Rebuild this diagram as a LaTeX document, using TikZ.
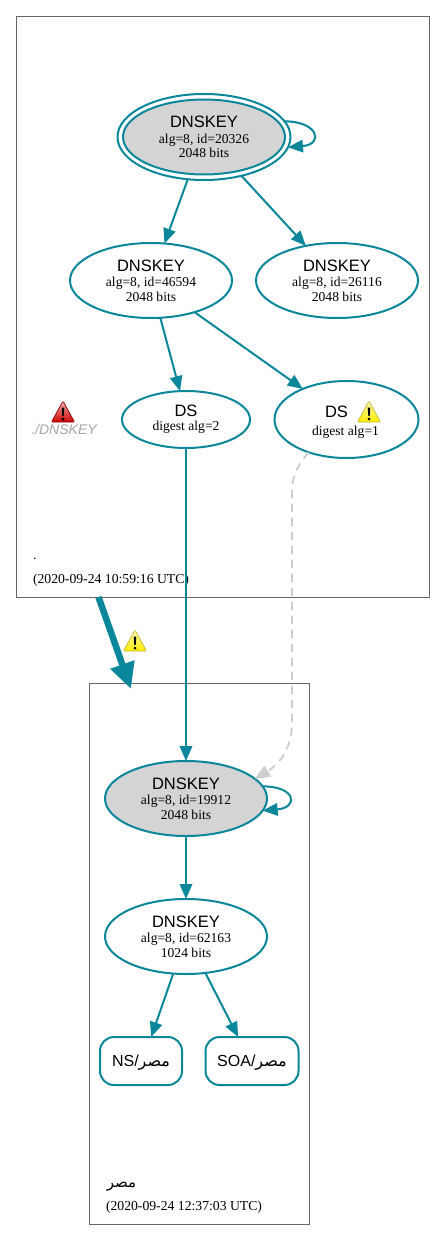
\documentclass[tikz,border=0pt]{standalone}
\usepackage{fontspec}
\usetikzlibrary{shapes.geometric,arrows.meta,calc}
\setmainfont{Liberation Serif}
\setsansfont{Liberation Sans}
\newfontfamily\arabicfont[Script=Arabic]{DejaVu Sans}
\TeXXeTstate=1
\definecolor{teal0}{HTML}{0A879A}
\definecolor{frame0}{HTML}{666666}
\newcommand{\headf}{\sffamily\fontsize{16.5}{17}\selectfont}
\newcommand{\subf}{\rmfamily\fontsize{13.6}{14.5}\selectfont}
\newcommand{\keytext}[2]{{\headf DNSKEY}\\[3.5pt]{\subf alg=8, id=#1}\\[1.5pt]{\subf #2 bits}}
\newcommand{\misr}{{\arabicfont\beginR مصر\endR}}
\tikzset{
  x=1pt,y=-1pt,
  every node/.style={inner sep=0pt,outer sep=0pt},
  zonebox/.style={draw=frame0,line width=0.8pt},
  keynode/.style={ellipse,draw=teal0,line width=2pt,align=center,minimum width=162pt,minimum height=75pt},
  dsnode/.style={ellipse,draw=teal0,line width=2pt,align=center},
  rrnode/.style={rectangle,rounded corners=14pt,draw=teal0,line width=2pt,minimum height=48pt,font=\sffamily\fontsize{16}{17}\selectfont},
  edge0/.style={draw=teal0,line width=2pt,-{Triangle[length=15pt,width=12.5pt]}},
  ghost0/.style={draw=black!20,line width=1.8pt,dash pattern=on 8pt off 6pt,-{Triangle[length=15pt,width=12.5pt]}},
  bigedge/.style={draw=teal0,line width=6.5pt,-{Triangle[length=26pt,width=24pt]}},
  labeltext/.style={anchor=west,font=\rmfamily\fontsize{13.7}{14}\selectfont},
  pics/warn/.style={code={
    \shade[top color=#1!30!white,bottom color=#1,draw=#1!75!black,line width=0.7pt,rounded corners=1pt]
      (0,-11) -- (11.5,10) -- (-11.5,10) -- cycle;
    \fill[black] (-1.3,-4.5) -- (1.3,-4.5) -- (0.7,4) -- (-0.7,4) -- cycle;
    \fill[black] (0,7) circle (1.5);
  }}
}
\begin{document}
\begin{tikzpicture}
\useasboundingbox (0,0) rectangle (445,1241);
\fill[white] (0,0) rectangle (445,1241);
% zones
\node[zonebox,anchor=north west,minimum width=413pt,minimum height=581pt] (rootzone) at (16,16) {};
\node[zonebox,anchor=north west,minimum width=220pt,minimum height=541pt] (egzone) at (89,683) {};
% nodes
\node[ellipse,draw=teal0,line width=2pt,minimum width=173pt,minimum height=86pt] (kskouter) at (204,137) {};
\node[keynode,fill=black!17] (ksk) at (204,137) {\keytext{20326}{2048}};
\node[keynode] (zsk1) at (151,280.5) {\keytext{46594}{2048}};
\node[keynode] (zsk2) at (337,280.5) {\keytext{26116}{2048}};
\node[dsnode,minimum width=128pt,minimum height=57pt] (dstwo) at (186,419.5) {{\headf DS}\\[2pt]{\subf digest alg=2}};
\node[dsnode,minimum width=144pt,minimum height=77pt] (dsone) at (346.5,419.5) {};
\node[anchor=center] (dsonehead) at (336.5,412) {\headf DS};
\node[anchor=center] (dsonesub) at (345.5,432) {\subf digest alg=1};
\node[keynode,fill=black!17] (egksk) at (186,798.5) {\keytext{19912}{2048}};
\node[keynode] (egzsk) at (186,936.5) {\keytext{62163}{1024}};
\node[rrnode,minimum width=82pt] (ns) at (141,1061) {\raisebox{-5pt}[0pt][0pt]{NS/\misr}};
\node[rrnode,minimum width=93pt] (soa) at (252,1061) {\raisebox{-5pt}[0pt][0pt]{SOA/\misr}};
% warnings and labels
\pic at (63,412) {warn=red!80!black};
\pic at (369,412) {warn=yellow!85!orange};
\pic at (135,641) {warn=yellow!85!orange};
\node[anchor=center,font=\sffamily\itshape\fontsize{14}{15}\selectfont,text=black!35] (dnskeylabel) at (64,429) {./DNSKEY};
\node[labeltext] (rootname) at (33,559) {.};
\node[labeltext] (rootdate) at (33,580) {(2020-09-24 10:59:16 UTC)};
\node[anchor=center,font=\arabicfont\fontsize{15}{16}\selectfont] (egname) at (121.5,1187) {\beginR مصر\endR};
\node[labeltext] (egdate) at (106,1207) {(2020-09-24 12:37:03 UTC)};
% connectors
\draw[edge0] (kskouter.249) -- (zsk1.70.6);
\draw[edge0] (kskouter.-46.5) -- (zsk2.132.4);
\draw[edge0] (zsk1.-76.7) -- (dstwo.102);
\draw[edge0] (zsk1.-36) -- (dsone.145);
\draw[edge0] (dstwo.south) -- (egksk.north);
\draw[edge0] (egksk.south) -- (egzsk.north);
\draw[edge0] (egzsk.251) -- (ns.67.4);
\draw[edge0] (egzsk.-62) -- (soa.120);
\draw[edge0] (kskouter.11) .. controls ($(kskouter.11)+(34,0)$) and ($(kskouter.-7)+(36,-3)$) .. (kskouter.-7);
\draw[edge0] (egksk.9) .. controls ($(egksk.9)+(34,0)$) and ($(egksk.-9)+(36,-3)$) .. (egksk.-9);
\coordinate (dashA) at (292,490);
\coordinate (dashB) at (292,722);
\draw[ghost0] (dsone.221.4) .. controls (299,463) and (292,476) .. (dashA) -- (dashB) .. controls (292,750) and (278,765) .. (egksk.16.2);
\coordinate (bigA) at (98.5,597);
\coordinate (bigB) at (131,689);
\draw[bigedge] (bigA) -- (bigB);
\end{tikzpicture}
\end{document}
